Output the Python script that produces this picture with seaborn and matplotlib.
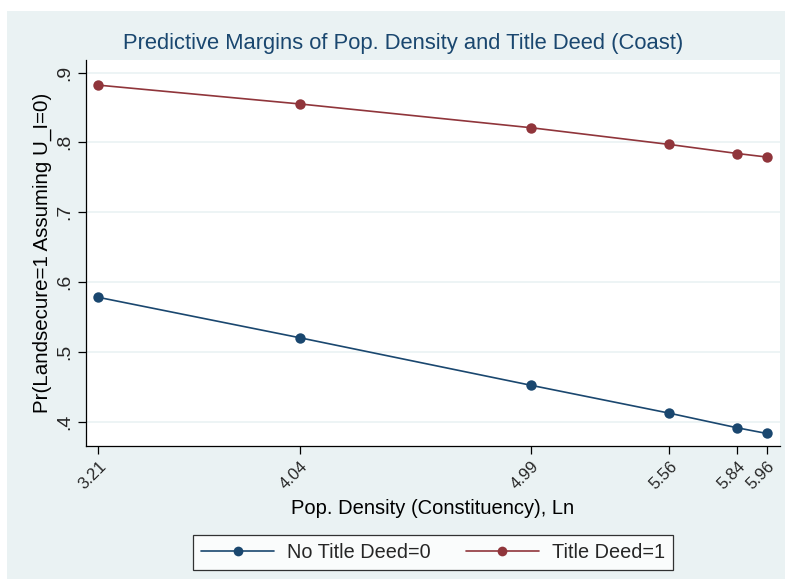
import matplotlib
matplotlib.use("Agg")
import matplotlib.pyplot as plt
import seaborn as sns
import pandas as pd
from matplotlib.patches import Rectangle
from matplotlib.lines import Line2D

# ---- data ----
pop_density = [3.21, 4.04, 4.99, 5.56, 5.84, 5.96]
no_title_deed = [0.578, 0.520, 0.452, 0.412, 0.391, 0.383]
title_deed = [0.882, 0.855, 0.821, 0.797, 0.784, 0.779]
series_names = ["No Title Deed=0", "Title Deed=1"]
x_tick_labels = ["3.21", "4.04", "4.99", "5.56", "5.84", "5.96"]
y_ticks = [0.4, 0.5, 0.6, 0.7, 0.8, 0.9]
y_tick_labels = [".4", ".5", ".6", ".7", ".8", ".9"]

df = pd.DataFrame({
    "x": pop_density * 2,
    "y": no_title_deed + title_deed,
    "group": [series_names[0]] * len(pop_density) + [series_names[1]] * len(pop_density),
})

sns.set_theme(style="white")
plt.rcParams["font.family"] = ["Liberation Sans", "DejaVu Sans"]

BG = "#EAF2F3"
NAVY = "#1A476F"
MAROON = "#90353B"

fig = plt.figure(figsize=(7.85, 5.79), dpi=100)
fig.patch.set_facecolor("white")
fig.patches.append(Rectangle((7 / 785, 0), 1 - 7 / 785, 1 - 11 / 579,
                             transform=fig.transFigure, facecolor=BG,
                             edgecolor="none", zorder=-10))

ax = fig.add_axes([86 / 785, 1 - 446 / 579, (780 - 86) / 785, (446 - 60) / 579])
ax.set_facecolor("white")

sns.lineplot(data=df, x="x", y="y", hue="group", marker="o",
             palette={series_names[0]: NAVY, series_names[1]: MAROON},
             markersize=7.5, markeredgewidth=0, linewidth=1.2,
             legend=False, ax=ax)

ax.set_xlim(3.159, 6.015)
ax.set_ylim(0.365, 0.918)

ax.set_yticks(y_ticks)
ax.set_yticklabels(y_tick_labels, rotation=90, va="center", fontsize=14)
ax.set_xticks(pop_density)
ax.set_xticklabels(x_tick_labels, rotation=45, ha="right",
                   rotation_mode="anchor", fontsize=12)

ax.tick_params(axis="both", which="major", direction="out", length=6,
               width=0.9, color="black", left=True, bottom=True)
ax.tick_params(axis="y", pad=3)
ax.tick_params(axis="x", pad=3)

ax.grid(axis="y", color=BG, linewidth=1.2)
ax.set_axisbelow(True)
for side in ["top", "right"]:
    ax.spines[side].set_visible(False)
for side in ["left", "bottom"]:
    ax.spines[side].set_visible(True)
    ax.spines[side].set_color("black")
    ax.spines[side].set_linewidth(0.9)

ax.set_xlabel("Pop. Density (Constituency), Ln", fontsize=14.5, color="black")
ax.xaxis.set_label_coords(0.5, -(508 - 446) / (446 - 60))
ax.xaxis.label.set_va("center")
ax.set_ylabel("Pr(Landsecure=1 Assuming U_I=0)", fontsize=14.8, color="black")
ax.yaxis.set_label_coords(-(86 - 42) / (780 - 86), 0.5)
ax.yaxis.label.set_va("center")

fig.text(403.5 / 785, 1 - 43 / 579,
         "Predictive Margins of Pop. Density and Title Deed (Coast)",
         ha="center", va="center", fontsize=15.8, color=NAVY)

handles = [
    Line2D([], [], color=NAVY, marker="o", markersize=7, linewidth=1.2,
           markeredgewidth=0),
    Line2D([], [], color=MAROON, marker="o", markersize=7, linewidth=1.2,
           markeredgewidth=0),
]
leg = fig.legend(handles, series_names, loc="center",
                 bbox_to_anchor=(433 / 785, 1 - 552.5 / 579), ncol=2,
                 fontsize=14.3, frameon=True, fancybox=False,
                 handlelength=3.7, columnspacing=1.75, handletextpad=0.65,
                 borderpad=0.4, borderaxespad=0)
leg.get_frame().set_edgecolor("black")
leg.get_frame().set_linewidth(0.9)
leg.get_frame().set_facecolor("white")

fig.savefig("out.png", dpi=100, facecolor=fig.get_facecolor())
